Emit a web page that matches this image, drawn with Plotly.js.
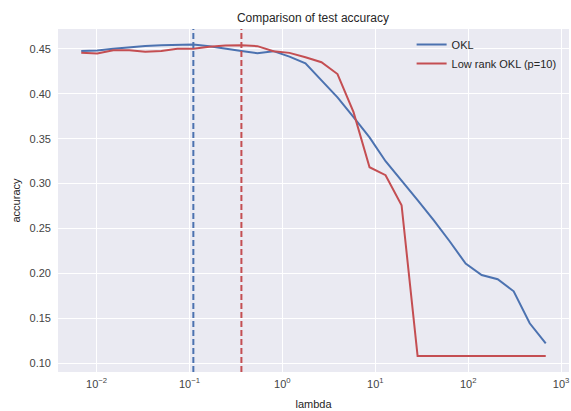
<!DOCTYPE html>
<html>
<head>
<meta charset="utf-8">
<script src="https://cdn.plot.ly/plotly-3.0.1.min.js"></script>
<style>
html,body{margin:0;padding:0;background:#fff;}
#chart{width:571px;height:411px;}
</style>
</head>
<body>
<div id="chart"></div>
<script>
const lambdas = [0.00684, 0.01017, 0.01513, 0.02250, 0.03346, 0.04977, 0.07402, 0.1101, 0.1637, 0.2435,
  0.3622, 0.5387, 0.8012, 1.192, 1.772, 2.636, 3.920, 5.832, 8.674, 12.90,
  19.19, 28.54, 42.45, 63.13, 93.89, 139.6, 207.7, 308.9, 459.4, 683.4];
const okl = [0.4478, 0.4483, 0.4502, 0.4519, 0.4533, 0.4542, 0.4545, 0.4550, 0.4531, 0.4508,
  0.4477, 0.4453, 0.4475, 0.4414, 0.4340, 0.4150, 0.3960, 0.3740, 0.3515, 0.3249,
  0.3037, 0.2814, 0.2591, 0.2357, 0.2108, 0.1981, 0.1933, 0.1799, 0.1443, 0.1220];
const lowRank = [0.4456, 0.4449, 0.4486, 0.4486, 0.4469, 0.4478, 0.4503, 0.4502, 0.4525, 0.4538,
  0.4542, 0.4531, 0.4475, 0.4456, 0.4408, 0.4352, 0.4220, 0.3795, 0.3182, 0.3093,
  0.2758, 0.1078, 0.1078, 0.1078, 0.1078, 0.1078, 0.1078, 0.1078, 0.1078, 0.1078];
const seriesNames = ["OKL", "Low rank OKL (p=10)"];
const xTickVals = [0.01, 0.1, 1, 10, 100, 1000];
const xTickText = ["10<sup>−2</sup>", "10<sup>−1</sup>", "10<sup>0</sup>", "10<sup>1</sup>", "10<sup>2</sup>", "10<sup>3</sup>"];
const yTickVals = [0.10, 0.15, 0.20, 0.25, 0.30, 0.35, 0.40, 0.45];

const blue = "#4C72B0", red = "#C44E52";
function argmax(a){let m=0;for(let i=1;i<a.length;i++) if(a[i]>a[m]) m=i;return m;}
const bestOkl = lambdas[argmax(okl)];
const bestLow = lambdas[argmax(lowRank)];

const font = {family: "Liberation Sans, Arial, sans-serif", color: "#262626"};
const traces = [
  {x: lambdas, y: okl, name: seriesNames[0], mode: "lines", line: {color: blue, width: 2}},
  {x: lambdas, y: lowRank, name: seriesNames[1], mode: "lines", line: {color: red, width: 2}}
];
const layout = {
  width: 571, height: 411,
  margin: {l: 58, r: 2, t: 29, b: 39},
  paper_bgcolor: "#ffffff",
  plot_bgcolor: "#EAEAF2",
  font: Object.assign({size: 11}, font),
  title: {text: "Comparison of test accuracy", font: Object.assign({size: 12}, font), x: 0.548, xanchor: "center", y: 0.957, yanchor: "middle"},
  xaxis: {
    type: "log", range: [-2.415, 3.085],
    tickvals: xTickVals, ticktext: xTickText,
    showgrid: true, gridcolor: "#ffffff", gridwidth: 1,
    zeroline: false, showline: false, ticks: "",
    tickfont: {size: 11, color: "#444", family: font.family},
    title: {text: "lambda", font: Object.assign({size: 11}, font), standoff: 11},
    ticklabelstandoff: 4
  },
  yaxis: {
    range: [0.0900, 0.4722],
    tickvals: yTickVals, tickformat: ".2f",
    showgrid: true, gridcolor: "#ffffff", gridwidth: 1,
    zeroline: false, showline: false, ticks: "",
    tickfont: {size: 11, color: "#444", family: font.family},
    title: {text: "accuracy", font: Object.assign({size: 11}, font), standoff: 6},
    ticklabelstandoff: 6
  },
  legend: {x: 0.692, y: 0.997, xanchor: "left", yanchor: "top", bgcolor: "rgba(0,0,0,0)",
    font: Object.assign({size: 11}, font), itemwidth: 30, tracegroupgap: 0},
  showlegend: true,
  shapes: [
    {type: "line", xref: "x", yref: "paper", x0: bestOkl, x1: bestOkl, y0: 0, y1: 1,
      line: {color: blue, width: 2, dash: "6px,3px"}},
    {type: "line", xref: "x", yref: "paper", x0: bestLow, x1: bestLow, y0: 0, y1: 1,
      line: {color: red, width: 2, dash: "6px,3px"}}
  ]
};
Plotly.newPlot("chart", traces, layout, {displayModeBar: false, staticPlot: true});
</script>
</body>
</html>
